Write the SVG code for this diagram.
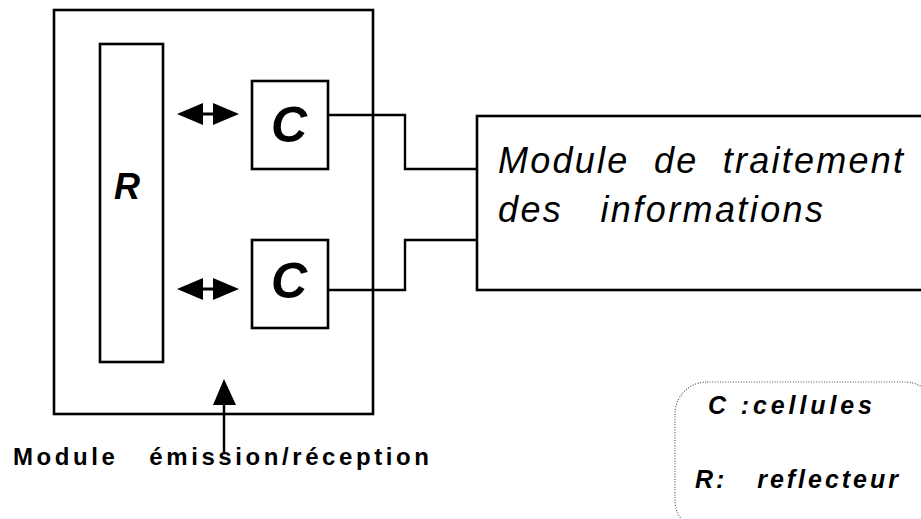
<svg xmlns="http://www.w3.org/2000/svg" width="921" height="519" viewBox="0 0 921 519">
<style>
.box{fill:none;stroke:#000;stroke-width:2.6}
.wire{fill:none;stroke:#000;stroke-width:2.4}
.head{fill:#000;stroke:none}
.t{font-family:"Liberation Sans",Arial,sans-serif;fill:#000;white-space:pre}
</style>
<rect width="921" height="519" fill="#fff"/>
<g id="module-emission">
<rect class="box" x="54" y="10" width="319" height="404"/>
<text class="t" x="13" y="465" font-size="24" font-weight="bold" textLength="416" lengthAdjust="spacing" xml:space="preserve">Module   émission/réception</text>
</g>
<g id="reflecteur">
<rect class="box" x="100" y="44" width="63" height="318"/>
<text class="t" x="127" y="199" font-size="36" font-weight="bold" font-style="italic" text-anchor="middle">R</text>
</g>
<g id="cellule-haut">
<rect class="box" x="252" y="81" width="76" height="88"/>
<text class="t" x="289" y="142" font-size="50" font-weight="bold" font-style="italic" text-anchor="middle">C</text>
</g>
<g id="cellule-bas">
<rect class="box" x="252" y="240" width="76" height="88"/>
<text class="t" x="289" y="298" font-size="50" font-weight="bold" font-style="italic" text-anchor="middle">C</text>
</g>
<g id="module-traitement">
<rect class="box" x="477" y="116" width="460" height="174"/>
<text class="t" x="498" y="173" font-size="36" font-style="italic" textLength="405" lengthAdjust="spacing" xml:space="preserve">Module  de  traitement</text>
<text class="t" x="498" y="222" font-size="36" font-style="italic" textLength="325" lengthAdjust="spacing" xml:space="preserve">des   informations</text>
</g>
<g id="legende">
<rect x="675" y="382" width="262" height="150" rx="32" ry="32" fill="none" stroke="#555" stroke-width="1.2" stroke-dasharray="1 1.6"/>
<text class="t" x="708" y="414" font-size="25" font-weight="bold" font-style="italic" textLength="164" lengthAdjust="spacing" xml:space="preserve">C :cellules</text>
<text class="t" x="695" y="488" font-size="25" font-weight="bold" font-style="italic" textLength="203" lengthAdjust="spacing" xml:space="preserve">R:   reflecteur</text>
</g>
<g id="connecteurs">
<polyline class="wire" points="328,115 405,115 405,169 477,169"/>
<polyline class="wire" points="328,290 405,290 405,240 477,240"/>
<line x1="200" y1="114" x2="216" y2="114" stroke="#000" stroke-width="3"/>
<polygon class="head" points="177,114 203,103 203,125"/>
<polygon class="head" points="239,114 213,103 213,125"/>
<line x1="200" y1="289" x2="216" y2="289" stroke="#000" stroke-width="3"/>
<polygon class="head" points="177,289 203,278 203,300"/>
<polygon class="head" points="239,289 213,278 213,300"/>
<line x1="224" y1="452" x2="224" y2="400" stroke="#000" stroke-width="2.5"/>
<polygon class="head" points="224,379 213,405 236,405"/>
</g>
</svg>
